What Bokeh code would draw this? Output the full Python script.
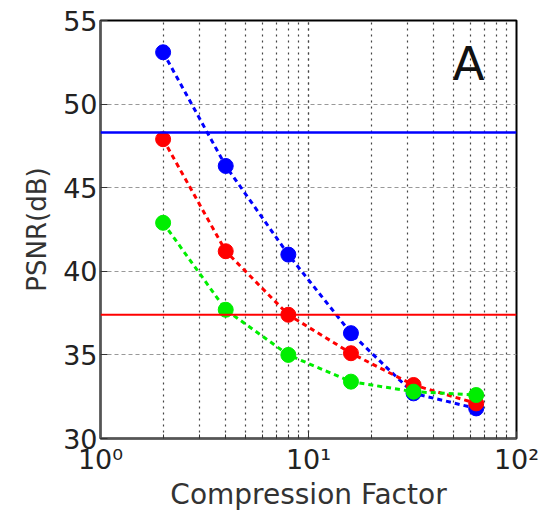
from bokeh.plotting import figure
from bokeh.models import (FixedTicker, LogTicker, CustomJSTickFormatter, Span, Label,
                          ColumnDataSource, Range1d)
from bokeh.embed import file_html
from bokeh.resources import INLINE

# Data
compression = [2, 4, 8, 16, 32, 64]
psnr_blue = [53.1, 46.3, 41.0, 36.3, 32.7, 31.8]
psnr_red = [47.9, 41.2, 37.4, 35.1, 33.2, 32.1]
psnr_green = [42.9, 37.7, 35.0, 33.4, 32.8, 32.6]
ref_blue = 48.3
ref_red = 37.4
y_ticks = [30, 35, 40, 45, 50, 55]
panel_letter = "A"

FONT = "DejaVu Sans"

p = figure(width=545, height=513, x_axis_type="log", output_backend="svg",
           toolbar_location=None, x_range=Range1d(1, 100), y_range=Range1d(30, 55),
           min_border_left=100, min_border_right=29, min_border_top=20,
           min_border_bottom=72, background_fill_color="white",
           border_fill_color="white")

p.outline_line_color = "black"
p.outline_line_width = 2

# Grid
p.xgrid.grid_line_color = "#444444"
p.xgrid.grid_line_dash = "2 4"
p.xgrid.grid_line_width = 1.2
p.xgrid.minor_grid_line_color = "#444444"
p.xgrid.minor_grid_line_dash = "2 4"
p.xgrid.minor_grid_line_width = 1.2
p.ygrid.grid_line_color = "#999999"
p.ygrid.grid_line_dash = "4 3"
p.ygrid.grid_line_width = 1.2

# Axes
p.xaxis.ticker = LogTicker(desired_num_ticks=3, num_minor_ticks=10)
p.xaxis.formatter = CustomJSTickFormatter(code="""
const sup = {'-1':'\u207b\u00b9','0':'\u2070','1':'\u00b9','2':'\u00b2','3':'\u00b3'};
const e = Math.round(Math.log10(tick));
return '10' + (sup[String(e)] || String(e));
""")
p.yaxis.ticker = FixedTicker(ticks=y_ticks)

for ax in (p.xaxis[0], p.yaxis[0]):
    ax.axis_line_color = "#555555"
    ax.axis_line_width = 2
    ax.major_tick_in = 7
    ax.major_tick_out = 0
    ax.minor_tick_in = 4
    ax.minor_tick_out = 0
    ax.major_tick_line_color = "#333333"
    ax.minor_tick_line_color = "#333333"
    ax.major_label_text_font = FONT
    ax.major_label_text_font_size = "27px"
    ax.major_label_text_color = "#222222"
    ax.axis_label_text_font = FONT
    ax.axis_label_text_font_style = "normal"
    ax.axis_label_text_color = "#333333"

p.xaxis.axis_label_text_font_size = "28px"
p.yaxis.axis_label_text_font_size = "26px"
p.yaxis.minor_tick_line_color = None
p.xaxis.axis_label = "Compression Factor"
p.yaxis.axis_label = "PSNR(dB)"
p.xaxis.major_label_standoff = 5
p.xaxis.axis_label_standoff = 0
p.yaxis.major_label_standoff = 3
p.yaxis.axis_label_standoff = 8

# Reference lines
p.add_layout(Span(location=ref_blue, dimension="width", line_color="#0000ff", line_width=2.5))
p.add_layout(Span(location=ref_red, dimension="width", line_color="#ff0000", line_width=2))

# Series
for ys, col in ((psnr_blue, "#0000ff"), (psnr_red, "#ff0000"), (psnr_green, "#00ee00")):
    src = ColumnDataSource(dict(x=compression, y=ys))
    p.line("x", "y", source=src, line_color=col, line_width=3, line_dash="5 4")
    p.scatter("x", "y", source=src, size=15, fill_color=col, line_color=col)

p.add_layout(Label(x=58.8, y=52.4, text=panel_letter, text_align="center",
                   text_baseline="alphabetic",
                   text_font=FONT, text_font_size="47px", text_color="#111111"))

open("out.html", "w").write(file_html(p, INLINE))
